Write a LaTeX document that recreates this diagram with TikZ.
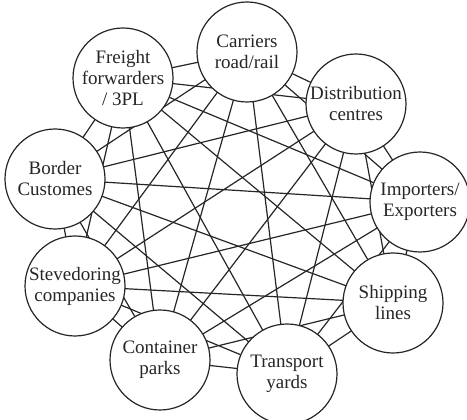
\documentclass[tikz,border=0pt]{standalone}
\usepackage{fontspec}
\setmainfont{Liberation Serif}
\usetikzlibrary{backgrounds}
\begin{document}
\begin{tikzpicture}[x=1pt,y=1pt,
  actor/.style={circle,draw=black!85,line width=1.2pt,fill=white,minimum size=100pt,inner sep=0pt,
    align=center,font=\fontsize{19}{21}\selectfont,text=black!85},
  link/.style={draw=black!85,line width=1.2pt}]
\useasboundingbox (0,0) rectangle (467,-420);
\node[actor] (car) at (247,-52) {Carriers\\road/rail};
\node[actor] (dis) at (356,-104) {Distribution\\centres};
\node[actor] (imp) at (420,-202) {Importers/\\Exporters};
\node[actor] (shi) at (393,-303) {Shipping\\lines};
\node[actor] (tra) at (287,-374) {Transport\\yards};
\node[actor] (con) at (160,-360) {Container\\parks};
\node[actor] (ste) at (75,-286) {Stevedoring\\companies};
\node[actor] (bor) at (55,-179) {Border\\Customes};
\node[actor] (fre) at (123,-78) {Freight\\forwarders\\/ 3PL};
\begin{scope}[on background layer]
\foreach \a/\b in {car/dis,car/imp,car/shi,car/tra,car/con,car/ste,car/bor,car/fre,
  dis/imp,dis/shi,dis/tra,dis/con,dis/ste,dis/bor,dis/fre,
  imp/shi,imp/tra,imp/con,imp/ste,imp/bor,imp/fre,
  shi/tra,shi/con,shi/ste,shi/bor,shi/fre,
  tra/con,tra/ste,tra/bor,tra/fre,
  con/ste,con/bor,con/fre,
  ste/bor,ste/fre,
  bor/fre}
  \draw[link] (\a.center) -- (\b.center);
\end{scope}
\end{tikzpicture}
\end{document}
